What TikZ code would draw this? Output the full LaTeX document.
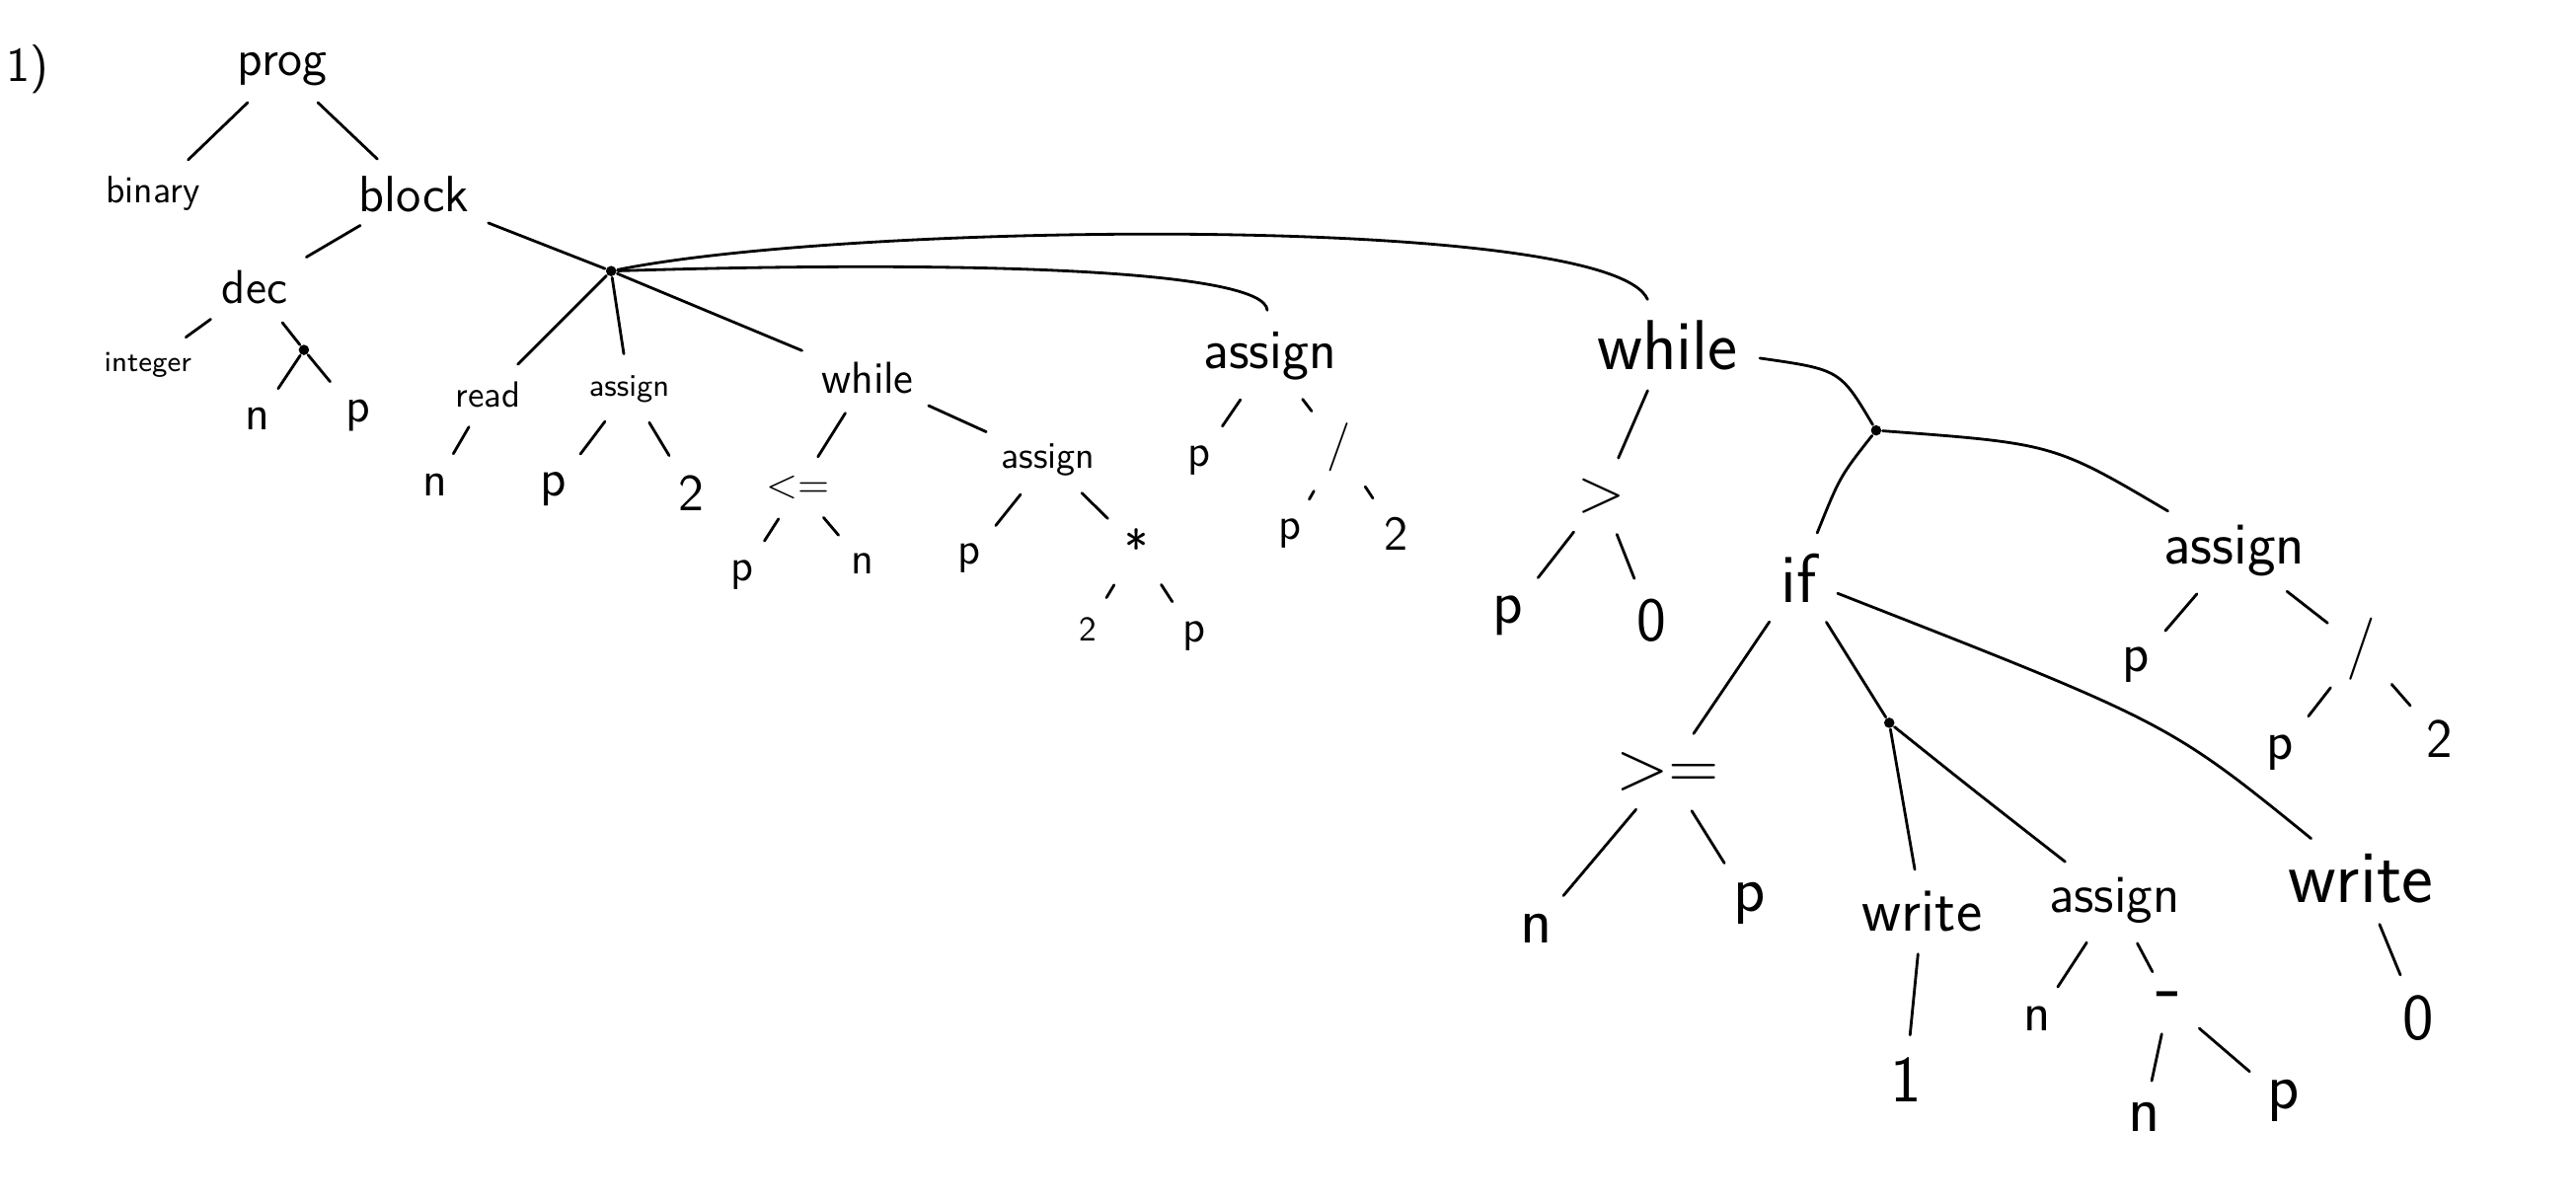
\documentclass[tikz,border=0pt]{standalone}
\usepackage{fontspec}
\begin{document}
\begin{tikzpicture}[x=0.016645cm, y=-0.016645cm, thick, line cap=round,
    lab/.style={inner sep=1pt, font=\sffamily\fontsize{#1}{#1}\selectfont},
    br/.style={circle, fill, inner sep=0pt, minimum size=3pt},
    link/.style={shorten <=5pt, shorten >=5pt},
    stem/.style={shorten >=5pt}]
    \useasboundingbox (0,0) rectangle (1568,732);
    \node[lab=14] (one) at (17,42) {1)};
    \node[lab=14.5] (prog) at (172,42) {prog};
    \node[lab=11] (binary) at (93,118) {binary};
    \node[lab=14.7] (block) at (252,118) {block};
    \node[lab=13.7] (dec) at (155,175) {dec};
    \node[lab=8.3] (integer) at (90,222) {integer};
    \node[br] (dd) at (185,213) {};
    \node[lab=14] (decn) at (157,255) {n};
    \node[lab=14] (decp) at (218,253) {p};
    \node[br] (bd) at (372,165) {};
    \node[lab=10.5] (read) at (297,240) {read};
    \node[lab=9] (asg1) at (383,237) {assign};
    \node[lab=14] (readn) at (265,295) {n};
    \node[lab=15] (asg1p) at (337,298) {p};
    \node[lab=15] (asg1two) at (421,300) {2};
    \node[lab=12.9] (whl1) at (528,230) {while};
    \node[lab=12] (le) at (486,297) {<=};
    \node[lab=13] (lep) at (452,350) {p};
    \node[lab=13] (len) at (525,343) {n};
    \node[lab=10.8] (asg2) at (638,280) {assign};
    \node[lab=13] (asg2p) at (590,340) {p};
    \node[lab=14] (mul) at (692,333) {*};
    \node[lab=10] (multwo) at (662,383) {2};
    \node[lab=13] (mulp) at (727,387) {p};
    \node[lab=16.3] (asg3) at (773,217) {assign};
    \node[lab=13] (asg3p) at (730,280) {p};
    \node[lab=14] (div1) at (815,272) {/};
    \node[lab=13] (div1p) at (785,325) {p};
    \node[lab=14] (div1two) at (850,325) {2};
    \node[lab=20.4] (whl2) at (1015,210) {while};
    \node[lab=18] (gt) at (975,302) {>};
    \node[lab=18] (gtp) at (918,375) {p};
    \node[lab=18] (gtzero) at (1005,378) {0};
    \node[br] (wd) at (1142,262) {};
    \node[lab=20] (if) at (1095,352) {if};
    \node[lab=17.3] (asg4) at (1360,335) {assign};
    \node[lab=16] (asg4p) at (1300,405) {p};
    \node[lab=18] (div2) at (1437,395) {/};
    \node[lab=16] (div2p) at (1388,458) {p};
    \node[lab=16] (div2two) at (1485,450) {2};
    \node[lab=20] (ge) at (1015,470) {>=};
    \node[lab=19] (gen) at (935,565) {n};
    \node[lab=19] (gep) at (1065,550) {p};
    \node[br] (id) at (1150,440) {};
    \node[lab=17.8] (wrt1) at (1170,555) {write};
    \node[lab=15.4] (asg5) at (1287,548) {assign};
    \node[lab=21.6] (wrt2) at (1437,535) {write};
    \node[lab=19] (wrt1one) at (1160,657) {1};
    \node[lab=16] (asg5n) at (1240,620) {n};
    \node[lab=24] (sub) at (1320,610) {-};
    \node[lab=19] (subn) at (1305,680) {n};
    \node[lab=19] (subp) at (1390,670) {p};
    \node[lab=19] (wrt2zero) at (1472,620) {0};
    \draw[link] (prog) -- (binary);
    \draw[link] (prog) -- (block);
    \draw[link] (block) -- (dec);
    \draw[shorten <=5pt] (block) -- (bd);
    \draw[link] (dec) -- (integer);
    \draw[shorten <=5pt] (dec) -- (dd);
    \draw[stem] (dd) -- (decn);
    \draw[stem] (dd) -- (decp);
    \draw[stem] (bd) -- (read);
    \draw[stem] (bd) -- (asg1);
    \draw[stem] (bd) .. controls (420,185) .. (whl1);
    \draw[stem] (bd) .. controls (600,158) and (770,165) .. (asg3);
    \draw[stem] (bd) .. controls (520,135) and (980,130) .. (whl2);
    \draw[link] (read) -- (readn);
    \draw[link] (asg1) -- (asg1p);
    \draw[link] (asg1) -- (asg1two);
    \draw[link] (whl1) -- (le);
    \draw[link] (whl1) -- (asg2);
    \draw[link] (le) -- (lep);
    \draw[link] (le) -- (len);
    \draw[link] (asg2) -- (asg2p);
    \draw[link] (asg2) -- (mul);
    \draw[link] (mul) -- (multwo);
    \draw[link] (mul) -- (mulp);
    \draw[link] (asg3) -- (asg3p);
    \draw[link] (asg3) -- (div1);
    \draw[link] (div1) -- (div1p);
    \draw[link] (div1) -- (div1two);
    \draw[link] (whl2) -- (gt);
    \draw[link] (gt) -- (gtp);
    \draw[link] (gt) -- (gtzero);
    \draw[shorten <=5pt] (whl2) .. controls (1120,225) .. (wd);
    \draw[stem] (wd) .. controls (1120,290) .. (if);
    \draw[stem] (wd) .. controls (1250,270) .. (asg4);
    \draw[link] (asg4) -- (asg4p);
    \draw[link] (asg4) -- (div2);
    \draw[link] (div2) -- (div2p);
    \draw[link] (div2) -- (div2two);
    \draw[link] (if) -- (ge);
    \draw[shorten <=5pt] (if) -- (id);
    \draw[link] (if) .. controls (1320,440) .. (wrt2);
    \draw[link] (ge) -- (gen);
    \draw[link] (ge) -- (gep);
    \draw[stem] (id) -- (wrt1);
    \draw[stem] (id) .. controls (1200,480) .. (asg5);
    \draw[link] (wrt1) -- (wrt1one);
    \draw[link] (asg5) -- (asg5n);
    \draw[link] (asg5) -- (sub);
    \draw[link] (sub) -- (subn);
    \draw[link] (sub) -- (subp);
    \draw[link] (wrt2) -- (wrt2zero);
\end{tikzpicture}
\end{document}
